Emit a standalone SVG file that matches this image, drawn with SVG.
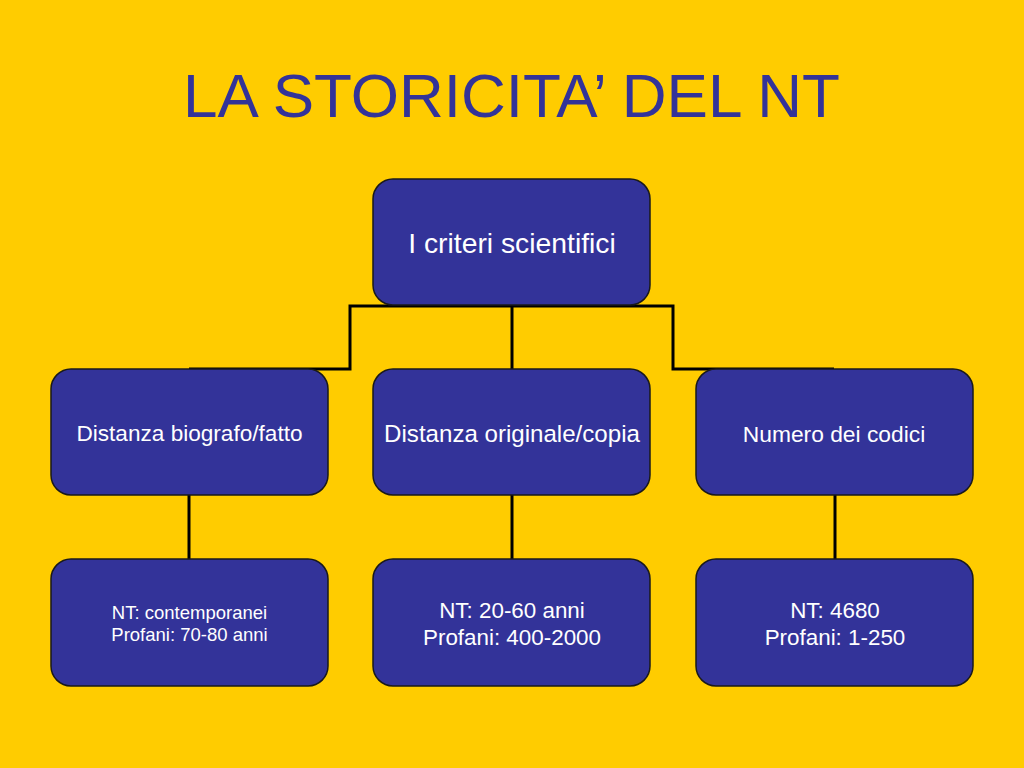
<svg xmlns="http://www.w3.org/2000/svg" width="1024" height="768" viewBox="0 0 1024 768">
<style>
.box{fill:#333399;stroke:#1a1a1a;stroke-width:1.5}
.t{font-family:"Liberation Sans",Arial,sans-serif;fill:#ffffff;text-anchor:middle}
.conn{fill:none;stroke:#000000;stroke-width:3}
.title{font-family:"Liberation Sans",Arial,sans-serif;fill:#333399;text-anchor:middle;font-size:61px}
</style>
<rect x="0" y="0" width="1024" height="768" fill="#FFCC00"/>
<text class="title" x="511.5" y="117" textLength="657" lengthAdjust="spacingAndGlyphs">LA STORICITA’ DEL NT</text>
<g id="connectors">
<polyline class="conn" points="189,369 350,369 350,306 673,306 673,369 834,369"/>
<line class="conn" x1="512" y1="306" x2="512" y2="369"/>
<line class="conn" x1="189" y1="495" x2="189" y2="559"/>
<line class="conn" x1="512" y1="495" x2="512" y2="559"/>
<line class="conn" x1="835" y1="495" x2="835" y2="559"/>
</g>
<g id="root">
<rect class="box" x="373" y="179" width="277" height="126" rx="20"/>
<text class="t" x="512" y="253" font-size="28.3">I criteri scientifici</text>
</g>
<g id="n1">
<rect class="box" x="51" y="369" width="277" height="126" rx="20"/>
<text class="t" x="189.5" y="441" font-size="22.6">Distanza biografo/fatto</text>
</g>
<g id="n2">
<rect class="box" x="373" y="369" width="277" height="126" rx="20"/>
<text class="t" x="512" y="442" font-size="24.1">Distanza originale/copia</text>
</g>
<g id="n3">
<rect class="box" x="696" y="369" width="277" height="126" rx="20"/>
<text class="t" x="834" y="442" font-size="22.8">Numero dei codici</text>
</g>
<g id="n1a">
<rect class="box" x="51" y="559" width="277" height="127" rx="20"/>
<text class="t" x="189.5" y="619" font-size="18.5">NT: contemporanei</text>
<text class="t" x="189.5" y="641" font-size="18.5">Profani: 70-80 anni</text>
</g>
<g id="n2a">
<rect class="box" x="373" y="559" width="277" height="127" rx="20"/>
<text class="t" x="512" y="618" font-size="22.4">NT: 20-60 anni</text>
<text class="t" x="512" y="645" font-size="22.4">Profani: 400-2000</text>
</g>
<g id="n3a">
<rect class="box" x="696" y="559" width="277" height="127" rx="20"/>
<text class="t" x="835" y="618" font-size="22.4">NT: 4680</text>
<text class="t" x="835" y="645" font-size="22.4">Profani: 1-250</text>
</g>
</svg>
